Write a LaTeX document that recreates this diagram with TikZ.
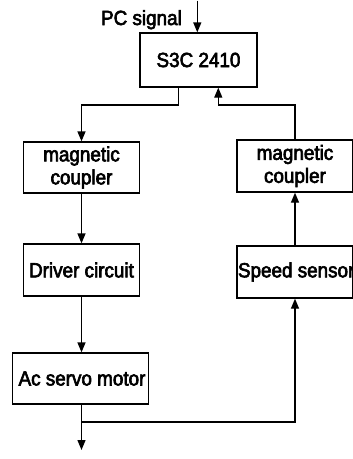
\documentclass[tikz,border=0pt]{standalone}
\usepackage{fontspec}
\setmainfont{Liberation Sans}
\newfontfamily\heavyfont[FakeBold=3,FakeStretch=0.92]{Liberation Sans}
\usetikzlibrary{arrows.meta}
\begin{document}
\begin{tikzpicture}[x=1pt,y=-1pt,
  box/.style={draw, line width=1.3pt, inner sep=0pt, align=center,
    font=\heavyfont\fontsize{20.5pt}{23pt}\selectfont},
  conn/.style={line width=1.3pt, -{Triangle[length=10pt,width=8pt]}}]
\useasboundingbox (0,0) rectangle (353,459);
\node[box, minimum width=117pt, minimum height=54pt] (cpu) at (198.5,60) {S3C 2410};
\node[box, minimum width=116pt, minimum height=51pt] (mcl) at (81.5,167.5) {magnetic\\coupler};
\node[box, minimum width=116pt, minimum height=52pt] (mcr) at (295,166) {magnetic\\coupler};
\node[box, minimum width=116pt, minimum height=52pt] (drv) at (81.5,270) {Driver circuit};
\node[box, minimum width=116pt, minimum height=52pt] (ss) at (295,272) {\makebox[116pt][l]{\hspace{1pt}Speed sensor}};
\node[box, minimum width=136pt, minimum height=51pt] (mot) at (80.5,378.5) {\hspace{3pt}Ac servo motor};
\node[anchor=base east, inner sep=0pt, font=\heavyfont\fontsize{20.5pt}{23pt}\selectfont] (pc) at (182,25) {PC signal};
\coordinate (top) at (197.3,0.5);
\coordinate (branch) at (81.5,422);
\coordinate (out) at (81.5,450);
\draw[conn] (top) -- (top |- cpu.north);
\draw[conn] (178.3,0 |- cpu.south) -- (178.3,105) -| (mcl.north);
\draw[conn] (mcr.north) |- (218.3,105) -- (218.3,0 |- cpu.south);
\draw[conn] (mcl.south) -- (drv.north);
\draw[conn] (drv.south) -- (drv.south |- mot.north);
\draw[conn] (branch) -| (ss.south);
\draw[conn] (mot.south -| branch) -- (out);
\draw[conn] (ss.north) -- (mcr.south);
\end{tikzpicture}
\end{document}
